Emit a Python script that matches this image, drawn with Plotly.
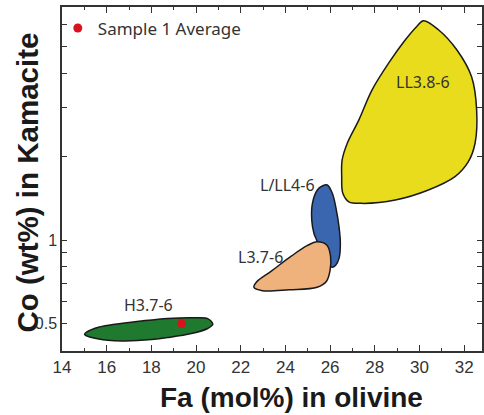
import math
import plotly.graph_objects as go

# ---- data (Fa mol%, Co wt%) ----
ll_x = [30.18, 30.85, 31.67, 32.33, 32.56, 32.49, 32.19, 31.59, 30.40, 28.92, 27.43, 26.84,
        26.57, 26.52, 26.54, 26.77, 27.29, 27.88, 28.62, 29.37, 29.88, 30.18]
ll_y = [6.19, 5.74, 4.86, 3.89, 2.95, 2.236, 1.919, 1.694, 1.516, 1.395, 1.357, 1.375,
        1.475, 1.694, 1.946, 2.236, 2.716, 3.485, 4.35, 5.28, 5.90, 6.19]

lll_x = [26.08, 25.59, 25.43, 25.28, 25.18, 25.21, 25.43, 25.65, 25.875, 26.10, 26.28, 26.40,
         26.46, 26.40, 26.25, 26.08]
lll_y = [0.799, 0.883, 0.986, 1.057, 1.181, 1.357, 1.516, 1.567, 1.58, 1.475, 1.284, 1.117,
         0.973, 0.859, 0.812, 0.799]

l_x = [22.59, 22.70, 23.37, 24.26, 24.97, 25.42, 25.86, 26.02, 26.00, 25.84, 25.42, 24.17, 22.97, 22.59]
l_y = [0.676, 0.705, 0.773, 0.875, 0.955, 0.987, 0.959, 0.875, 0.779, 0.711, 0.676, 0.662, 0.657, 0.676]

h_x = [15.01, 15.48, 16.37, 17.56, 18.73, 19.94, 20.52, 20.75, 20.52, 19.79, 18.73, 18.01,
       16.82, 16.06, 15.34, 15.01]
h_y = [0.457, 0.481, 0.497, 0.511, 0.522, 0.525, 0.521, 0.497, 0.480, 0.460, 0.445, 0.438,
       0.433, 0.435, 0.445, 0.457]

sample_x = [19.35]
sample_y = [0.50]

labels = ["LL3.8-6", "L/LL4-6", "L3.7-6", "H3.7-6"]
label_x = [30.14, 24.08, 22.88, 17.86]
label_y = [3.72, 1.58, 0.870, 0.582]

y_tickvals = [0.5, 0.6, 0.7, 0.8, 0.9, 1, 2, 3, 4, 5, 6]
y_ticktext = ["0.5", "", "", "", "", "1", "", "", "", "", ""]

fig = go.Figure()

def region(x, y, color):
    fig.add_trace(go.Scatter(x=x, y=y, mode="lines", fill="toself", fillcolor=color,
                             line=dict(color="#1a1a1a", width=1.5, shape="spline", smoothing=1.0),
                             showlegend=False, hoverinfo="skip"))

region(ll_x, ll_y, "#e9dc1d")
region(lll_x, lll_y, "#3a66b0")
region(l_x, l_y, "#efb27c")
region(h_x, h_y, "#1f7a30")

fig.add_trace(go.Scatter(x=sample_x, y=sample_y, mode="markers", name="Sample 1 Average",
                         marker=dict(color="#d8131d", size=9)))

# annotations on a log axis take log10 positions
for t, x, y in zip(labels, label_x, label_y):
    fig.add_annotation(x=x, y=math.log10(y), xref="x", yref="y", text=t, showarrow=False,
                       font=dict(family="Noto Sans", size=16, color="#333333"))

fig.add_annotation(x=0.5465, y=-0.134, xref="paper", yref="paper", text="<b>Fa (mol%) in olivine</b>",
                   showarrow=False, xanchor="center", yanchor="middle",
                   font=dict(family="Liberation Sans", size=28, color="#1a1a1a"))
fig.add_annotation(x=-0.083, y=0.49, xref="paper", yref="paper", text="<b>Co (wt%) in Kamacite</b>",
                   showarrow=False, xanchor="center", yanchor="middle", textangle=-90,
                   font=dict(family="Liberation Sans", size=29.5, color="#1a1a1a"))

fig.update_layout(
    width=484, height=415,
    margin=dict(l=62, r=0, t=7, b=64),
    paper_bgcolor="white", plot_bgcolor="white",
    showlegend=True,
    legend=dict(x=-0.01, y=0.99, xanchor="left", yanchor="top", bgcolor="rgba(0,0,0,0)",
                borderwidth=0, font=dict(family="Noto Sans", size=17, color="#333333")),
    xaxis=dict(range=[14, 32.8], tick0=14, dtick=2, ticks="inside", ticklen=6, tickwidth=1.3,
               tickcolor="#333", showline=True, linecolor="#333", linewidth=1.5, mirror="ticks",
               showgrid=False, zeroline=False,
               minor=dict(dtick=1, ticks="inside", ticklen=3, tickwidth=1.3, tickcolor="#333"),
               tickfont=dict(family="Liberation Sans", size=17, color="#333333")),
    yaxis=dict(type="log", range=[-0.400, 0.841], tickvals=y_tickvals, ticktext=y_ticktext,
               ticks="inside", ticklen=5, tickwidth=1.3, tickcolor="#333",
               showline=True, linecolor="#333", linewidth=1.5, mirror="ticks",
               showgrid=False, zeroline=False,
               tickfont=dict(family="Liberation Sans", size=16, color="#333333")),
)

fig.write_html("out.html", config={"displayModeBar": False},
               post_script="document.body.style.margin='0';")
